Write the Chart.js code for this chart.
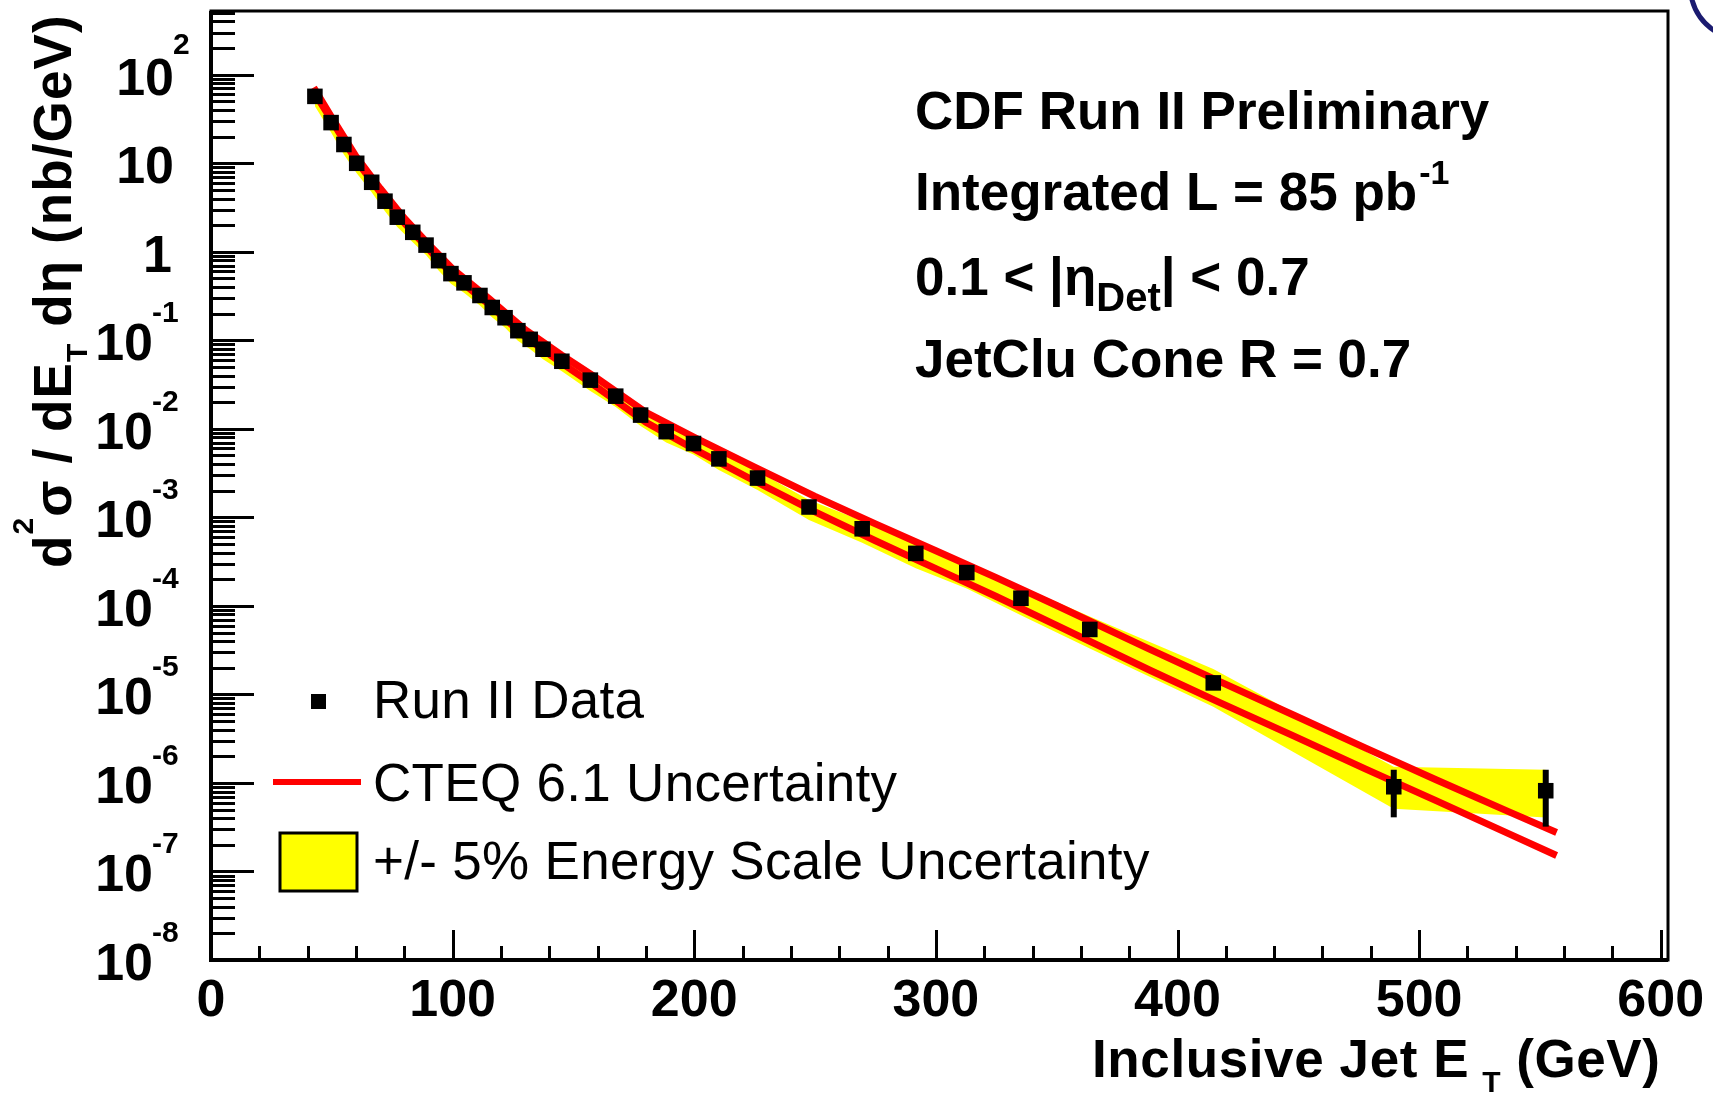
<!DOCTYPE html>
<html>
<head>
<meta charset="utf-8">
<title>CDF Run II inclusive jet cross section</title>
<script src="https://cdn.jsdelivr.net/npm/chart.js@4.4.1/dist/chart.umd.min.js"></script>
<style>
  html, body { margin: 0; padding: 0; background: #fff; }
  canvas { display: block; }
</style>
</head>
<body>
<canvas id="jetChart" width="1713" height="1094"></canvas>
<script>
// --- values ---

// Run II data points (GeV, nb/GeV)
const jetEt = [43.0, 49.7, 55.0, 60.3, 66.5, 72.0, 77.1, 83.5, 89.0, 94.2, 99.3, 104.7, 111.3, 116.4, 121.7,
  127.0, 132.1, 137.4, 145.2, 157.0, 167.5, 177.8, 188.4, 199.7, 210.2, 226.2, 247.5, 269.5, 291.7, 312.8,
  335.2, 363.7, 414.8, 489.5, 552.4];
const jetXsec = [57, 28.8, 16.3, 10.0, 6.1, 3.73, 2.46, 1.66, 1.19, 0.794, 0.567, 0.446, 0.321, 0.235, 0.180,
  0.1285, 0.1026, 0.0793, 0.058, 0.0355, 0.0234, 0.0143, 0.0093, 0.00683, 0.00458, 0.00278, 0.00131, 7.43e-4,
  3.92e-4, 2.38e-4, 1.22e-4, 5.42e-5, 1.35e-5, 9.06e-7, 8.17e-7];
// error bars (only visible on the last two points)
const statHigh = [null, null, null, null, null, null, null, null, null, null, null, null, null, null, null,
  null, null, null, null, null, null, null, null, null, null, null, null, null, null, null,
  null, null, null, 1.41e-6, 1.41e-6];
const statLow = [null, null, null, null, null, null, null, null, null, null, null, null, null, null, null,
  null, null, null, null, null, null, null, null, null, null, null, null, null, null, null,
  null, null, null, 4.09e-7, 3.21e-7];

// +/- 5% energy scale band, at the data points
const escaleHigh = [66.6, 33.6, 19.0, 11.7, 7.12, 4.36, 2.87, 1.94, 1.39, 0.927, 0.662, 0.521, 0.375, 0.274, 0.210,
  0.150, 0.120, 0.0926, 0.0677, 0.0415, 0.0273, 0.0167, 0.0109, 0.00798, 0.00535, 0.00333, 0.00157, 9.14e-4,
  4.95e-4, 3.0e-4, 1.67e-4, 7.59e-5, 1.94e-5, 1.52e-6, 1.41e-6];
const escaleLow = [44.0, 22.2, 12.6, 7.72, 4.71, 2.88, 1.90, 1.28, 0.918, 0.613, 0.437, 0.344, 0.248, 0.181, 0.139,
  0.0992, 0.0792, 0.0612, 0.0448, 0.0267, 0.0176, 0.0108, 0.0070, 0.00514, 0.00344, 0.00204, 9.36e-4, 5.17e-4,
  2.66e-4, 1.57e-4, 7.86e-5, 3.31e-5, 7.25e-6, 5.12e-7, 4.06e-7];

// CTEQ 6.1 uncertainty, upper and lower curves
const cteqEt = [42.5, 50, 60, 70, 80, 90, 100, 115, 130, 145, 160, 180, 200, 225, 250, 275, 300, 325, 350,
  388.6, 418, 448, 477.7, 507, 537, 556.9];
const cteqHigh = [71.8, 32.8, 11.96, 5.22, 2.40, 1.224, 0.640, 0.298, 0.132, 0.0683, 0.0368, 0.01537, 0.00804,
  0.003699, 0.001722, 8.45e-4, 4.20e-4, 2.087e-4, 1.010e-4, 3.232e-5, 1.375e-5, 5.85e-6, 2.49e-6, 1.086e-6,
  4.74e-7, 2.75e-7];
const cteqLow = [64.7, 30.4, 10.78, 4.71, 2.11, 1.075, 0.548, 0.2554, 0.110, 0.0555, 0.02915, 0.01186, 0.00589,
  0.002574, 0.001153, 5.44e-4, 2.634e-4, 1.276e-4, 6.02e-5, 1.876e-5, 7.98e-6, 3.40e-6, 1.444e-6, 6.31e-7,
  2.68e-7, 1.517e-7];

// axis ticks
const xTickValues = [0, 100, 200, 300, 400, 500, 600];
const xTickText = ['0', '100', '200', '300', '400', '500', '600'];
const yExponents = [2, 1, 0, -1, -2, -3, -4, -5, -6, -7, -8];
const yExpText = ['2', '', '', '-1', '-2', '-3', '-4', '-5', '-6', '-7', '-8'];

const FONT = '"Liberation Sans", Arial, Helvetica, sans-serif';
const RED = '#ff0000';
const YELLOW = '#ffff00';

const toXY = (xs, ys) => xs.map((x, i) => ({ x: x, y: ys[i] }));

// draws a run of text pieces (sub/superscripts) starting at x, returns end x
function drawRun(ctx, x, y, parts, spacing) {
  ctx.letterSpacing = (spacing || 0) + 'px';
  parts.forEach(p => {
    ctx.font = `${p.bold === false ? '' : 'bold '}${p.size}px ${FONT}`;
    ctx.fillText(p.t, x + (p.dx || 0), y + (p.dy || 0));
    x += ctx.measureText(p.t).width + (p.dx || 0);
  });
  ctx.letterSpacing = '0px';
  return x;
}

// error bars on the data points
const errorBars = {
  id: 'errorBars',
  afterDatasetsDraw(chart) {
    const ctx = chart.ctx;
    const xs = chart.scales.x, ys = chart.scales.y;
    ctx.save();
    ctx.strokeStyle = '#000';
    ctx.lineWidth = 6;
    jetEt.forEach((et, i) => {
      if (statHigh[i] == null) return;
      const x = xs.getPixelForValue(et);
      ctx.beginPath();
      ctx.moveTo(x, ys.getPixelForValue(statHigh[i]));
      ctx.lineTo(x, ys.getPixelForValue(statLow[i]));
      ctx.stroke();
    });
    ctx.restore();
  }
};

// ROOT-like frame, inward ticks, labels, legend and text
const rootStyle = {
  id: 'rootStyle',
  afterDraw(chart) {
    const ctx = chart.ctx;
    const a = chart.chartArea;
    const xs = chart.scales.x, ys = chart.scales.y;
    ctx.save();
    ctx.fillStyle = '#000';
    ctx.strokeStyle = '#000';
    ctx.textBaseline = 'alphabetic';

    // frame
    ctx.lineWidth = 3;
    ctx.strokeRect(a.left, a.top, a.right - a.left, a.bottom - a.top);
    ctx.lineWidth = 4;
    ctx.beginPath();
    ctx.moveTo(a.left, a.top);
    ctx.lineTo(a.left, a.bottom);
    ctx.lineTo(a.right, a.bottom);
    ctx.stroke();

    // y ticks (log, pointing into the frame)
    ctx.lineWidth = 3;
    yExponents.forEach(e => {
      for (let k = 1; k <= 9; k++) {
        const v = k * Math.pow(10, e);
        if (v > ys.max) break;
        const y = Math.round(ys.getPixelForValue(v)) + 0.5;
        ctx.beginPath();
        ctx.moveTo(a.left, y);
        ctx.lineTo(a.left + (k === 1 ? 43 : 24), y);
        ctx.stroke();
      }
    });

    // x ticks every 20 GeV
    for (let v = 0; v <= 600; v += 20) {
      const x = Math.round(xs.getPixelForValue(v)) + 0.5;
      ctx.beginPath();
      ctx.moveTo(x, a.bottom);
      ctx.lineTo(x, a.bottom - (v % 100 === 0 ? 30 : 14));
      ctx.stroke();
    }

    // x tick labels
    ctx.font = `bold 52px ${FONT}`;
    ctx.textAlign = 'center';
    xTickValues.forEach((v, i) => {
      ctx.fillText(xTickText[i], xs.getPixelForValue(v), a.bottom + 56);
    });

    // y tick labels 10^n
    yExponents.forEach((e, i) => {
      const y = ys.getPixelForValue(Math.pow(10, e));
      ctx.font = `bold 52px ${FONT}`;
      ctx.textAlign = 'right';
      if (e === 0) {
        ctx.fillText('1', a.left - 39, y + 20);
        return;
      }
      const right = e > 0 ? a.left - 37 : a.left - 58;
      ctx.fillText('10', right, y + 20);
      if (!yExpText[i]) return;
      ctx.font = `bold 30px ${FONT}`;
      ctx.textAlign = 'left';
      ctx.fillText(yExpText[i], right - 1, y - (e > 0 ? 21 : 18));
    });

    ctx.textAlign = 'left';

    // x axis title
    drawRun(ctx, 1092, 1077, [
      { t: 'Inclusive Jet E', size: 53 },
      { t: 'T', size: 30, dx: 13, dy: 15 },
      { t: '(GeV)', size: 53, dx: 15 }
    ], 0.6);

    // y axis title, rotated
    ctx.save();
    ctx.translate(71, 568);
    ctx.rotate(-Math.PI / 2);
    drawRun(ctx, 0, 0, [
      { t: 'd', size: 53 },
      { t: '2', size: 30, dy: -38 },
      { t: 'σ / dE', size: 53 },
      { t: 'T', size: 30, dy: 16 },
      { t: ' dη (nb/GeV)', size: 53 }
    ], 1.1);
    ctx.restore();

    // info block
    drawRun(ctx, 915, 129, [{ t: 'CDF Run II Preliminary', size: 53 }]);
    drawRun(ctx, 915, 210, [
      { t: 'Integrated L = 85 pb', size: 53 },
      { t: '-1', size: 34, dx: 2, dy: -26 }
    ]);
    drawRun(ctx, 915, 295, [
      { t: '0.1 < |η', size: 53 },
      { t: 'Det', size: 40, dy: 16 },
      { t: '| < 0.7', size: 53 }
    ]);
    drawRun(ctx, 915, 377, [{ t: 'JetClu Cone R = 0.7', size: 53 }]);

    // legend
    ctx.fillRect(311, 694, 15, 15);
    ctx.strokeStyle = RED;
    ctx.lineWidth = 6;
    ctx.beginPath();
    ctx.moveTo(273, 782);
    ctx.lineTo(361, 782);
    ctx.stroke();
    ctx.fillStyle = YELLOW;
    ctx.fillRect(280, 833, 77, 58);
    ctx.strokeStyle = '#000';
    ctx.lineWidth = 3;
    ctx.strokeRect(280, 833, 77, 58);
    ctx.fillStyle = '#000';
    drawRun(ctx, 373, 718, [{ t: 'Run II Data', size: 53, bold: false }], 0.3);
    drawRun(ctx, 373, 801, [{ t: 'CTEQ 6.1 Uncertainty', size: 53, bold: false }], 0.3);
    drawRun(ctx, 373, 879, [{ t: '+/- 5% Energy Scale Uncertainty', size: 53, bold: false }], 0.3);

    // bit of the page decoration in the top right corner
    ctx.strokeStyle = '#1b1b70';
    ctx.lineWidth = 5;
    ctx.beginPath();
    ctx.arc(1745, -15, 55, 2.12, 2.95);
    ctx.stroke();

    ctx.restore();
  }
};

new Chart(document.getElementById('jetChart'), {
  type: 'scatter',
  data: {
    datasets: [
      {
        label: 'Run II Data',
        data: toXY(jetEt, jetXsec),
        pointStyle: 'rect',
        pointRadius: 11,
        pointBorderWidth: 0,
        backgroundColor: '#000',
        borderColor: '#000',
        showLine: false,
        order: 0
      },
      {
        label: 'CTEQ 6.1 upper',
        data: toXY(cteqEt, cteqHigh),
        showLine: true,
        borderColor: RED,
        borderWidth: 7,
        pointRadius: 0,
        fill: false,
        order: 1
      },
      {
        label: 'CTEQ 6.1 lower',
        data: toXY(cteqEt, cteqLow),
        showLine: true,
        borderColor: RED,
        borderWidth: 7,
        pointRadius: 0,
        fill: false,
        order: 1
      },
      {
        label: 'Energy scale up',
        data: toXY(jetEt, escaleHigh),
        showLine: true,
        borderColor: 'rgba(0,0,0,0)',
        borderWidth: 0,
        backgroundColor: YELLOW,
        pointRadius: 0,
        fill: '+1',
        order: 2
      },
      {
        label: 'Energy scale down',
        data: toXY(jetEt, escaleLow),
        showLine: true,
        borderColor: 'rgba(0,0,0,0)',
        borderWidth: 0,
        pointRadius: 0,
        fill: false,
        order: 2
      }
    ]
  },
  options: {
    responsive: false,
    devicePixelRatio: 1,
    animation: false,
    events: [],
    layout: { padding: { left: 211, right: 45, top: 7, bottom: 134 } },
    scales: {
      x: { type: 'linear', min: 0, max: 603, display: false },
      y: { type: 'logarithmic', min: 1e-8, max: 525, display: false }
    },
    plugins: {
      legend: { display: false },
      tooltip: { enabled: false }
    }
  },
  plugins: [errorBars, rootStyle]
});
</script>
</body>
</html>
